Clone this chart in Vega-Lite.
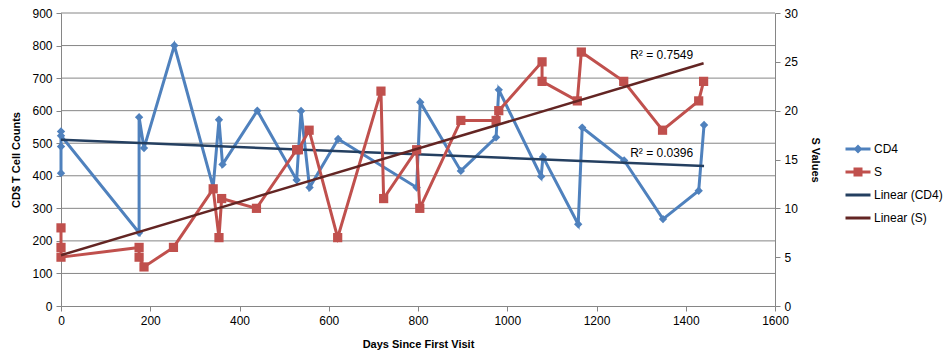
{
  "$schema": "https://vega.github.io/schema/vega-lite/v6.json",
  "width": 714,
  "height": 293,
  "autosize": {"type": "none"},
  "padding": {"left": 61, "top": 13, "right": 173, "bottom": 53},
  "background": "white",
  "config": {
    "view": {"stroke": null},
    "font": "Liberation Sans",
    "axis": {
      "labelFont": "Liberation Sans",
      "labelFontSize": 12,
      "labelColor": "#000000",
      "labelOverlap": false,
      "labelFlush": false,
      "titleFont": "Liberation Sans",
      "titleFontSize": 11,
      "titleFontWeight": "bold",
      "titleColor": "#000000",
      "domainColor": "#868686",
      "tickColor": "#868686",
      "tickSize": 5,
      "domainWidth": 1
    },
    "legend": {
      "labelFont": "Liberation Sans",
      "labelFontSize": 12,
      "labelColor": "#000000"
    }
  },
  "datasets": {
    "cd4": [
      {"i": 0, "day": 0, "cd4": 408},
      {"i": 1, "day": 0, "cd4": 490},
      {"i": 2, "day": 0, "cd4": 536},
      {"i": 3, "day": 0, "cd4": 523},
      {"i": 4, "day": 175, "cd4": 225},
      {"i": 5, "day": 175, "cd4": 580},
      {"i": 6, "day": 186, "cd4": 485},
      {"i": 7, "day": 254, "cd4": 800},
      {"i": 8, "day": 341, "cd4": 365},
      {"i": 9, "day": 354, "cd4": 572},
      {"i": 10, "day": 362, "cd4": 435},
      {"i": 11, "day": 440, "cd4": 600},
      {"i": 12, "day": 528, "cd4": 387},
      {"i": 13, "day": 538, "cd4": 599},
      {"i": 14, "day": 557, "cd4": 364},
      {"i": 15, "day": 621, "cd4": 513},
      {"i": 16, "day": 797, "cd4": 364},
      {"i": 17, "day": 805, "cd4": 626},
      {"i": 18, "day": 896, "cd4": 415},
      {"i": 19, "day": 975, "cd4": 518},
      {"i": 20, "day": 981, "cd4": 664},
      {"i": 21, "day": 1076, "cd4": 398},
      {"i": 22, "day": 1080, "cd4": 458},
      {"i": 23, "day": 1159, "cd4": 251},
      {"i": 24, "day": 1168, "cd4": 548},
      {"i": 25, "day": 1262, "cd4": 447},
      {"i": 26, "day": 1349, "cd4": 267},
      {"i": 27, "day": 1429, "cd4": 354},
      {"i": 28, "day": 1441, "cd4": 556}
    ],
    "s": [
      {"i": 0, "day": 0, "s": 8},
      {"i": 1, "day": 0, "s": 6},
      {"i": 2, "day": 0, "s": 5},
      {"i": 3, "day": 175, "s": 6},
      {"i": 4, "day": 175, "s": 5},
      {"i": 5, "day": 186, "s": 4},
      {"i": 6, "day": 252, "s": 6},
      {"i": 7, "day": 341, "s": 12},
      {"i": 8, "day": 354, "s": 7},
      {"i": 9, "day": 360, "s": 11},
      {"i": 10, "day": 438, "s": 10},
      {"i": 11, "day": 528, "s": 16},
      {"i": 12, "day": 532, "s": 16},
      {"i": 13, "day": 556, "s": 18},
      {"i": 14, "day": 620, "s": 7},
      {"i": 15, "day": 717, "s": 22},
      {"i": 16, "day": 723, "s": 11},
      {"i": 17, "day": 797, "s": 16},
      {"i": 18, "day": 804, "s": 10},
      {"i": 19, "day": 896, "s": 19},
      {"i": 20, "day": 975, "s": 19},
      {"i": 21, "day": 981, "s": 20},
      {"i": 22, "day": 1078, "s": 25},
      {"i": 23, "day": 1078, "s": 23},
      {"i": 24, "day": 1157, "s": 21},
      {"i": 25, "day": 1166, "s": 26},
      {"i": 26, "day": 1261, "s": 23},
      {"i": 27, "day": 1348, "s": 18},
      {"i": 28, "day": 1429, "s": 21},
      {"i": 29, "day": 1440, "s": 23}
    ],
    "legend": [
      {"series": "CD4"}, {"series": "S"}, {"series": "Linear (CD4)"}, {"series": "Linear (S)"}
    ]
  },
  "layer": [
    {
      "data": {"values": [{"g": 100}, {"g": 200}, {"g": 300}, {"g": 400}, {"g": 500}, {"g": 600}, {"g": 700}, {"g": 800}, {"g": 900}]},
      "mark": {"type": "rule", "color": "#868686", "strokeWidth": 1},
      "encoding": {
        "y": {"field": "g", "type": "quantitative", "scale": {"domain": [0, 900], "nice": false}, "axis": null}
      }
    },
    {
      "encoding": {
        "x": {"field": "day", "type": "quantitative", "scale": {"domain": [0, 1600], "nice": false},
          "axis": {"values": [0, 200, 400, 600, 800, 1000, 1200, 1400, 1600], "format": "d", "grid": false, "title": "Days Since First Visit", "titlePadding": 12, "labelPadding": 4}},
        "y": {"field": "cd4", "type": "quantitative", "scale": {"domain": [0, 900], "nice": false},
          "axis": {"orient": "left", "values": [0, 100, 200, 300, 400, 500, 600, 700, 800, 900], "grid": false, "title": "CD$ T Cell Counts", "titlePadding": 10, "labelPadding": 4}}
      },
      "layer": [
        {
          "data": {"name": "cd4"},
          "mark": {"type": "line", "color": "#4F81BD", "strokeWidth": 3},
          "encoding": {"order": {"field": "i"}}
        },
        {
          "data": {"name": "cd4"},
          "mark": {"type": "point", "shape": "diamond", "filled": true, "color": "#4F81BD", "size": 70, "opacity": 1}
        },
        {
          "data": {"name": "cd4"},
          "transform": [{"regression": "cd4", "on": "day"}],
          "mark": {"type": "line", "color": "#243F60", "strokeWidth": 2.5}
        },
        {
          "data": {"values": [{"day": 1346, "cd4": 471, "label": "R² = 0.0396"}, {"day": 1346, "cd4": 771, "label": "R² = 0.7549"}]},
          "mark": {"type": "text", "fontSize": 12, "color": "#000000", "font": "Liberation Sans"},
          "encoding": {"text": {"field": "label"}}
        },
        {
          "data": {"name": "legend"},
          "transform": [{"filter": "false"}],
          "mark": {"type": "point", "filled": true, "opacity": 1},
          "encoding": {
            "color": {"field": "series", "type": "nominal",
              "scale": {"domain": ["CD4", "S", "Linear (CD4)", "Linear (S)"], "range": ["#4F81BD", "#C0504D", "#243F60", "#632523"]},
              "legend": {"title": null, "orient": "none", "legendX": 791, "legendY": 130, "symbolSize": 100, "symbolStrokeWidth": 0, "labelOffset": 10, "rowPadding": 11, "padding": 0}},
            "shape": {"field": "series", "type": "nominal",
              "scale": {"domain": ["CD4", "S", "Linear (CD4)", "Linear (S)"], "range": [
                "M-2.5,-0.3H2.5V0.3H-2.5Z M0,-0.9L0.9,0L0,0.9L-0.9,0Z",
                "M-2.5,-0.3H2.5V0.3H-2.5Z M-0.9,-0.9H0.9V0.9H-0.9Z",
                "M-2.5,-0.3H2.5V0.3H-2.5Z",
                "M-2.5,-0.3H2.5V0.3H-2.5Z"]},
              "legend": {"title": null, "orient": "none", "legendX": 791, "legendY": 130, "symbolSize": 100, "symbolStrokeWidth": 0, "labelOffset": 10, "rowPadding": 11, "padding": 0}}
          }
        }
      ]
    },
    {
      "encoding": {
        "x": {"field": "day", "type": "quantitative", "scale": {"domain": [0, 1600], "nice": false},
          "axis": {"values": [0, 200, 400, 600, 800, 1000, 1200, 1400, 1600], "format": "d", "grid": false, "title": "Days Since First Visit", "titlePadding": 12, "labelPadding": 4}},
        "y": {"field": "s", "type": "quantitative", "scale": {"domain": [0, 30], "nice": false},
          "axis": {"orient": "right", "values": [0, 5, 10, 15, 20, 25, 30], "grid": false, "title": "S Values", "titlePadding": 12, "labelPadding": 4}}
      },
      "layer": [
        {
          "data": {"name": "s"},
          "mark": {"type": "line", "color": "#C0504D", "strokeWidth": 3},
          "encoding": {"order": {"field": "i"}}
        },
        {
          "data": {"name": "s"},
          "mark": {"type": "point", "shape": "square", "filled": true, "color": "#C0504D", "size": 85, "opacity": 1}
        },
        {
          "data": {"name": "s"},
          "transform": [{"regression": "s", "on": "day"}],
          "mark": {"type": "line", "color": "#632523", "strokeWidth": 2.5}
        }
      ]
    }
  ],
  "resolve": {"scale": {"y": "independent"}}
}
